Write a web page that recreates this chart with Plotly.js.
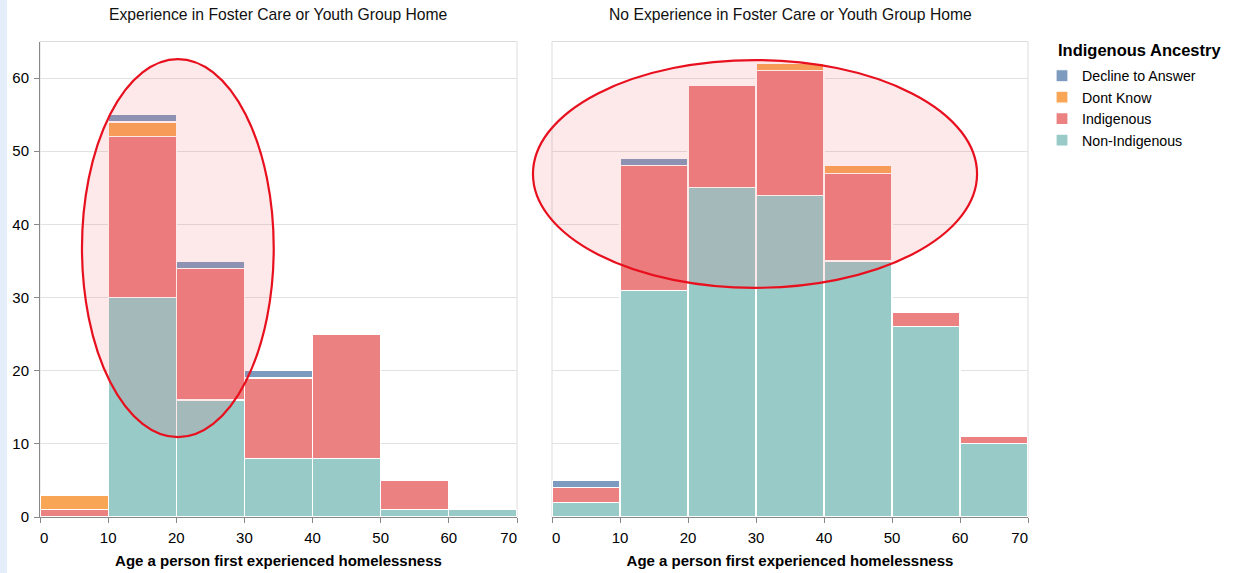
<!DOCTYPE html>
<html><head><meta charset="utf-8">
<script src="https://cdn.plot.ly/plotly-3.0.1.min.js"></script>
<style>html,body{margin:0;padding:0;background:#fff;}#edge{position:absolute;left:0;top:0;width:7px;height:573px;background:#e3eefa;z-index:5}</style>
</head><body><div id="edge"></div><div id="chart" style="width:1242px;height:573px;"></div>
<script>
const binStarts = [0, 10, 20, 30, 40, 50, 60];
const categories = ["Non-Indigenous", "Indigenous", "Dont Know", "Decline to Answer"];
// Experience in Foster Care or Youth Group Home
const fosterNonIndigenous = [0, 30, 16, 8, 8, 1, 1];
const fosterIndigenous    = [1, 22, 18, 11, 17, 4, 0];
const fosterDontKnow      = [2, 2, 0, 0, 0, 0, 0];
const fosterDecline       = [0, 1, 1, 1, 0, 0, 0];
// No Experience in Foster Care or Youth Group Home
const noFosterNonIndigenous = [2, 31, 45, 44, 35, 26, 10];
const noFosterIndigenous    = [2, 17, 14, 17, 12, 2, 1];
const noFosterDontKnow      = [0, 0, 0, 1, 1, 0, 0];
const noFosterDecline       = [1, 1, 0, 0, 0, 0, 0];
const panelTitles = ["Experience in Foster Care or Youth Group Home", "No Experience in Foster Care or Youth Group Home"];
const legendTitle = "Indigenous Ancestry";
const xAxisTitle = "Age a person first experienced homelessness";
const xTicks = [0, 10, 20, 30, 40, 50, 60, 70];
const xTickLabels = ["0", "10", "20", "30", "40", "50", "60", "70"];
const yTicks = [0, 10, 20, 30, 40, 50, 60];

// first/last labels flush with the axis ends (as in the original)
const NB = "\u00a0";
const xTickText = xTickLabels.map((t, i) => i === 0 ? NB + NB + t : (i === xTickLabels.length - 1 ? t + NB + NB + NB + NB : t));

const colors = {"Non-Indigenous": "#98cac7", "Indigenous": "#eb8180", "Dont Know": "#f8a656", "Decline to Answer": "#7d9bbf"};
const panels = [
  {ax: "x", ay: "y", vals: [fosterNonIndigenous, fosterIndigenous, fosterDontKnow, fosterDecline]},
  {ax: "x2", ay: "y2", vals: [noFosterNonIndigenous, noFosterIndigenous, noFosterDontKnow, noFosterDecline]}
];
const traces = [];
panels.forEach((p, pi) => {
  categories.forEach((c, ci) => {
    traces.push({
      type: "bar", x: binStarts, y: p.vals[ci], width: 10, offset: 0,
      xaxis: p.ax, yaxis: p.ay, name: c, legendgroup: c, showlegend: pi === 0,
      marker: {color: colors[c], line: {color: "#ffffff", width: 1.2}},
      hoverinfo: "x+y+name"
    });
  });
});

const F = "Liberation Sans, Arial, sans-serif";
const yBot = (573 - 517) / 573, yTop = (573 - 41.5) / 573;
const axisCommon = {
  range: [0, 70], tickvals: xTicks, ticktext: xTickText, ticks: "outside", ticklen: 5, tickcolor: "#888", ticklabelstandoff: 2,
  showline: true, linecolor: "#888", linewidth: 1, showgrid: false, zeroline: false,
  tickfont: {family: F, size: 15, color: "#000"},
  title: {text: xAxisTitle, font: {family: F, size: 15, color: "#000", weight: "bold"}, standoff: 10},
  fixedrange: true
};
const yCommon = {
  range: [0, 65], tickvals: yTicks, showgrid: true, gridcolor: "#e2e2e2", gridwidth: 1, zeroline: false,
  domain: [yBot, yTop], fixedrange: true
};
const frame = (xr, yr) => ({type: "rect", xref: xr + " domain", yref: yr + " domain", x0: 0, x1: 1, y0: 0, y1: 1, line: {color: "#dddddd", width: 1}, layer: "below"});
const ell = (xr, yr, x0, x1, y0, y1) => ({type: "circle", xref: xr + " domain", yref: yr + " domain", x0, x1, y0, y1, line: {color: "#e8101e", width: 2.2}, fillcolor: "rgba(238,90,105,0.14)", layer: "above"});

const annotations = panelTitles.map((t, i) => ({text: t, xref: (i ? "x2" : "x") + " domain", yref: "paper", x: 0.5, y: 1 - 15 / 573, yanchor: "middle", showarrow: false, font: {family: F, size: 15.7, color: "#111"}}));
annotations.push({text: "<b>" + legendTitle + "</b>", xref: "paper", yref: "paper", x: 1056 / 1242, y: 1 - 50 / 573, xanchor: "left", yanchor: "middle", showarrow: false, font: {family: F, size: 16.5, color: "#000"}});

const layout = {
  width: 1242, height: 573, margin: {l: 0, r: 0, t: 0, b: 0},
  paper_bgcolor: "#fff", plot_bgcolor: "#fff", barmode: "stack", bargap: 0,
  font: {family: F, color: "#000"},
  xaxis: Object.assign({}, axisCommon, {domain: [40 / 1242, 517 / 1242], anchor: "y"}),
  xaxis2: Object.assign({}, axisCommon, {domain: [552 / 1242, 1028 / 1242], anchor: "y2"}),
  yaxis: Object.assign({}, yCommon, {anchor: "x", showline: true, linecolor: "#888", ticks: "outside", ticklen: 5, tickcolor: "#888", ticklabelstandoff: 2, tickfont: {family: F, size: 15, color: "#000"}}),
  yaxis2: Object.assign({}, yCommon, {anchor: "x2", showline: false, showticklabels: false, ticks: ""}),
  legend: {x: 1042 / 1242, y: 1 - 60 / 573, xanchor: "left", yanchor: "top", traceorder: "reversed",
    font: {family: F, size: 14.2, color: "#000"}, tracegroupgap: 0, bgcolor: "rgba(0,0,0,0)"},
  annotations: annotations,
  shapes: [frame("x", "y"), frame("x2", "y2"),
    ell("x", "y", 0.088, 0.49, 0.168, 0.963),
    ell("x2", "y2", -0.04, 0.893, 0.482, 0.961)]
};
Plotly.newPlot("chart", traces, layout, {displayModeBar: false, staticPlot: true});
</script></body></html>
